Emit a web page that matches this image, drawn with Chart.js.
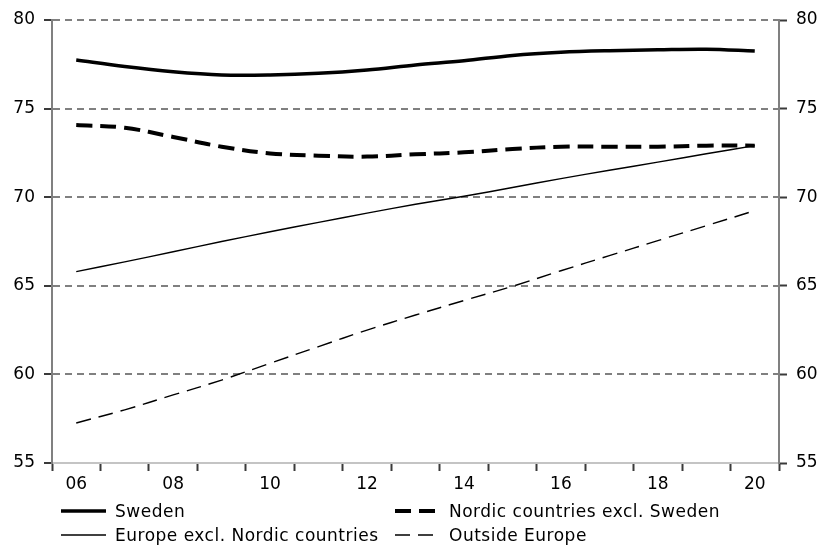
<!DOCTYPE html>
<html>
<head>
<meta charset="utf-8">
<script src="https://cdn.jsdelivr.net/npm/chart.js@4/dist/chart.umd.min.js"></script>
<style>
  html, body { margin: 0; padding: 0; background: #fff; }
  #wrap { position: relative; width: 820px; height: 545px; }
  #legend { position: absolute; left: 0; top: 0; width: 820px; height: 545px; pointer-events: none;
    font-family: "DejaVu Sans", Verdana, sans-serif; font-size: 17px; letter-spacing: 0.5px; color: #000; }
  .item { position: absolute; display: flex; align-items: center; white-space: nowrap; }
  .item svg { margin-right: 9px; }
</style>
</head>
<body>
<div id="wrap">
  <canvas id="chart" width="820" height="545"></canvas>
  <div id="legend"></div>
</div>
<script>
// Series
const years = ["06", "07", "08", "09", "10", "11", "12", "13", "14", "15", "16", "17", "18", "19", "20"];
const sweden = [77.74, 77.37, 77.08, 76.9, 76.9, 76.99, 77.18, 77.46, 77.7, 78.0, 78.18, 78.27, 78.32, 78.35, 78.25];
const nordic = [74.07, 73.92, 73.4, 72.85, 72.47, 72.34, 72.29, 72.42, 72.53, 72.72, 72.85, 72.85, 72.85, 72.91, 72.91];
const europe = [65.8, 66.35, 66.92, 67.5, 68.05, 68.58, 69.1, 69.6, 70.05, 70.55, 71.05, 71.52, 71.98, 72.45, 72.91];
const outside = [57.26, 58.0, 58.84, 59.68, 60.63, 61.57, 62.5, 63.35, 64.17, 64.97, 65.85, 66.7, 67.55, 68.39, 69.24];
const seriesNames = ["Sweden", "Nordic countries excl. Sweden", "Europe excl. Nordic countries", "Outside Europe"];

const font = { family: "'DejaVu Sans', Verdana, sans-serif", size: 17 };
const gridGrey = "#808080";
const tickDark = "#3a3a3a";

const styles = [
  { width: 3.5, dash: [] },
  { width: 4, dash: [16, 8] },
  { width: 1.4, dash: [] },
  { width: 1.4, dash: [15, 8] }
];

const datasets = [sweden, nordic, europe, outside].map((d, i) => ({
  label: seriesNames[i],
  data: d,
  borderColor: "#000",
  borderWidth: styles[i].width,
  borderDash: styles[i].dash,
  pointRadius: 0,
  tension: 0.35,
  fill: false
}));

new Chart(document.getElementById("chart"), {
  type: "line",
  data: { labels: years, datasets: datasets },
  options: {
    responsive: false,
    animation: false,
    layout: { padding: { top: 20, bottom: 52, left: 0, right: 0 } },
    plugins: { legend: { display: false }, tooltip: { enabled: false } },
    scales: {
      x: {
        offset: true,
        grid: { offset: true, drawOnChartArea: false, drawTicks: true, tickLength: 8, tickColor: tickDark, tickWidth: 2 },
        border: { display: true, color: "#c4c4c4", width: 2 },
        ticks: {
          font: font, color: "#000", autoSkip: false, maxRotation: 0, padding: 3,
          callback: function (v, i) { return i % 2 === 0 ? years[i] : ""; }
        },
        afterFit: (s) => { s.height = 30; }
      },
      y: {
        position: "left",
        min: 55, max: 80,
        grid: { color: gridGrey, lineWidth: 2, tickLength: 8, tickColor: tickDark, tickWidth: 2 },
        border: { color: gridGrey, width: 2, dash: [7, 5] },
        ticks: { stepSize: 5, font: font, color: "#000", padding: 9 },
        afterFit: (s) => { s.width = 52; }
      },
      y2: {
        position: "right",
        min: 55, max: 80,
        grid: { drawOnChartArea: false, tickLength: 8, tickColor: tickDark, tickWidth: 2 },
        border: { color: gridGrey, width: 2 },
        ticks: { stepSize: 5, font: font, color: "#000", padding: 9 },
        afterFit: (s) => { s.width = 41; }
      }
    }
  }
});

// Legend in two columns below the plot
const legendPos = [
  { left: 61, top: 511, len: 45 },
  { left: 395, top: 511, len: 45 },
  { left: 61, top: 535, len: 45 },
  { left: 395, top: 535, len: 45 }
];
const legend = document.getElementById("legend");
seriesNames.forEach((name, i) => {
  const p = legendPos[i];
  const div = document.createElement("div");
  div.className = "item";
  div.style.left = p.left + "px";
  div.style.top = (p.top - 10) + "px";
  div.style.height = "20px";
  const dash = styles[i].dash.length ? styles[i].dash.join(" ") : "none";
  div.innerHTML =
    '<svg width="' + p.len + '" height="20"><line x1="0" y1="10" x2="' + p.len + '" y2="10" stroke="#000" stroke-width="' +
    styles[i].width + '" stroke-dasharray="' + dash + '"/></svg><span>' + name + "</span>";
  legend.appendChild(div);
});
</script>
</body>
</html>
